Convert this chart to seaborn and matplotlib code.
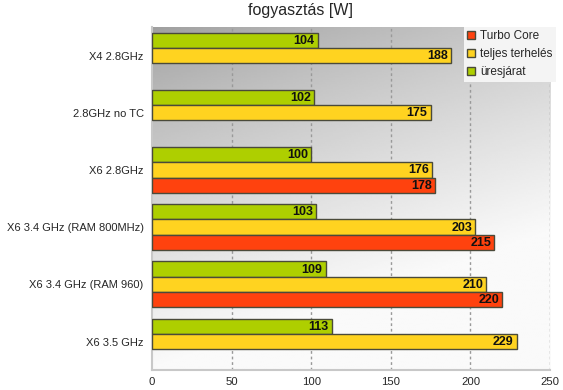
import numpy as np
import pandas as pd
import matplotlib
matplotlib.use("Agg")
import matplotlib.pyplot as plt
import seaborn as sns
from matplotlib.patches import Patch

categories = ["X4 2.8GHz", "2.8GHz no TC", "X6 2.8GHz",
              "X6 3.4 GHz (RAM 800MHz)", "X6 3.4 GHz (RAM 960)", "X6 3.5 GHz"]
idle = [104, 102, 100, 103, 109, 113]
full_load = [188, 175, 176, 203, 210, 229]
turbo = [np.nan, np.nan, 178, 215, 220, np.nan]
series = ["üresjárat", "teljes terhelés", "Turbo Core"]
colors = ["#AECF00", "#FFD320", "#FF420E"]
xticks = [0, 50, 100, 150, 200, 250]

df = pd.DataFrame({"cat": categories * 3,
                   "series": [series[0]] * 6 + [series[1]] * 6 + [series[2]] * 6,
                   "value": idle + full_load + turbo})

sns.set_style("white")
plt.rcParams["font.family"] = ["Liberation Sans", "DejaVu Sans"]

fig = plt.figure(figsize=(5.63, 3.9), dpi=100)
ax = fig.add_axes([0.27, 0.051, 0.707, 0.88])

# gradient background, dark at top-left, near white at the bottom
gx, gy = np.meshgrid(np.linspace(0, 1, 200), np.linspace(0, 1, 200))
t = np.clip(0.4 * gx + 1.0 * gy, 0, 1)
shade = 0.62 + 0.36 * t ** 0.8
ax.imshow(shade, cmap="gray", vmin=0, vmax=1, extent=[0, 250, 5.5, -0.5],
          aspect="auto", zorder=0, interpolation="bilinear")

sns.barplot(data=df.dropna(), x="value", y="cat", hue="series", hue_order=series,
            order=categories, palette=colors, saturation=1, orient="h", width=0.8,
            edgecolor="#4a4a3a", linewidth=1.0, ax=ax, legend=False, zorder=3)

for cont in ax.containers:
    for bar in cont:
        w = bar.get_width()
        if np.isnan(w) or w == 0:
            continue
        ax.text(w - 2, bar.get_y() + bar.get_height() / 2 + 0.01, f"{w:.0f}",
                ha="right", va="center", fontsize=9, fontweight="bold",
                color="#111111", zorder=5)

ax.set_xlim(0, 250)
ax.set_ylim(5.5, -0.5)
ax.set_xticks(xticks)
ax.set_xlabel("")
ax.set_ylabel("")
ax.tick_params(axis="x", labelsize=8.2, length=4, direction="inout", color="#bbbbbb", pad=3)
ax.tick_params(axis="y", labelsize=8, length=0, pad=6)
ax.set_yticks(np.arange(-0.5, 6, 1), minor=True)
ax.tick_params(axis="y", which="minor", length=4, direction="inout", color="#bbbbbb")
for x in xticks[1:]:
    ax.axvline(x, color="#999999", linestyle=(0, (2, 2)), linewidth=1, zorder=1)
for s in ["top", "right"]:
    ax.spines[s].set_visible(False)
for s in ["left", "bottom"]:
    ax.spines[s].set_color("#c8c8c8")
    ax.spines[s].set_linewidth(1.5)

handles = [Patch(facecolor=c, edgecolor="#4a4a3a", label=s)
           for s, c in zip(series[::-1], colors[::-1])]
leg = ax.legend(handles=handles, loc="upper right", bbox_to_anchor=(1.015, 1.0),
                fontsize=8.5, frameon=True, handlelength=0.7, handleheight=0.7,
                handletextpad=0.4, labelspacing=0.5, borderpad=0.3, borderaxespad=0)
leg.get_frame().set_facecolor("#f4f4f4")
leg.get_frame().set_edgecolor("none")
leg.get_frame().set_boxstyle("square", pad=0)
leg.get_frame().set_alpha(1)
leg.set_zorder(6)

fig.text(0.533, 0.972, "fogyasztás [W]", ha="center", va="center", fontsize=11.5)

fig.savefig("out.png", dpi=100)
